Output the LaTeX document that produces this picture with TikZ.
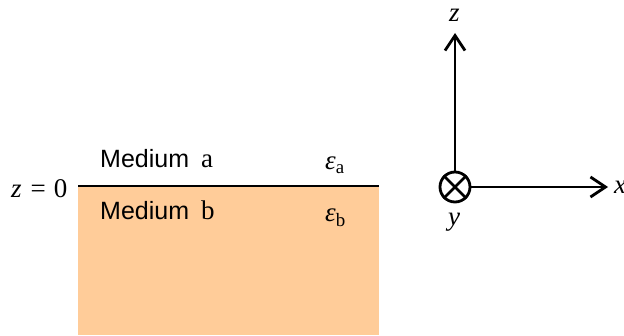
\documentclass[tikz,border=0pt]{standalone}
\usepackage{fontspec}
\setmainfont{Liberation Serif}
\newfontfamily\arialfont{Liberation Sans}
\usetikzlibrary{arrows.meta,positioning}
\definecolor{mediumB}{HTML}{FFCC99}
\newcommand{\mediumword}{{\arialfont\fontsize{25}{27}\selectfont Medium}}

\begin{document}
\begin{tikzpicture}[x=1pt, y=1pt,
			lbl/.style={font=\fontsize{27}{29}\selectfont, inner sep=0pt, anchor=base west},
			axis/.style={line width=2.8pt, -{Straight Barb[length=15pt, width=20pt, line width=2.8pt]}}
			]
			\useasboundingbox (0,0) rectangle (624,335);
			% medium b and the interface
			\fill[mediumB] (78,0) rectangle (379,149);
			\coordinate (ifL) at (78,149);
			\coordinate (ifR) at (379,149);
			\draw[line width=2.8pt] (ifL) -- (ifR);
			\node[lbl] (zzero) at (11,137) {\textit{z}\hspace{9pt}=\hspace{8pt}0};
			\node[lbl] (medA) at (100,167) {\mediumword\hspace{12pt}a};
			\node[lbl] (medB) at (100,115) {\mediumword\hspace{12pt}b};
			\node[lbl] (epsA) at (325,165) {\textit{ε}\textsubscript{a}};
			\node[lbl] (epsB) at (325,113) {\textit{ε}\textsubscript{b}};
			% axes
			\node[circle, draw, line width=2.8pt, minimum size=30pt, inner sep=0pt] (orig) at (455,148) {};
			\draw[line width=2.8pt] (orig.north west) -- (orig.south east) (orig.north east) -- (orig.south west);
			\coordinate (ztip) at (455,302);
			\coordinate (xtip) at (608,148);
			\draw[axis] (orig) -- (ztip);
			\draw[axis] (orig) -- (xtip);
			\node[lbl] (zlab) at (449,313) {\textit{z}};
			\node[lbl] (xlab) at (614,141) {\textit{x}};
			\node[lbl] (ylab) at (448,109) {\textit{y}};
		\end{tikzpicture}
\end{document}
